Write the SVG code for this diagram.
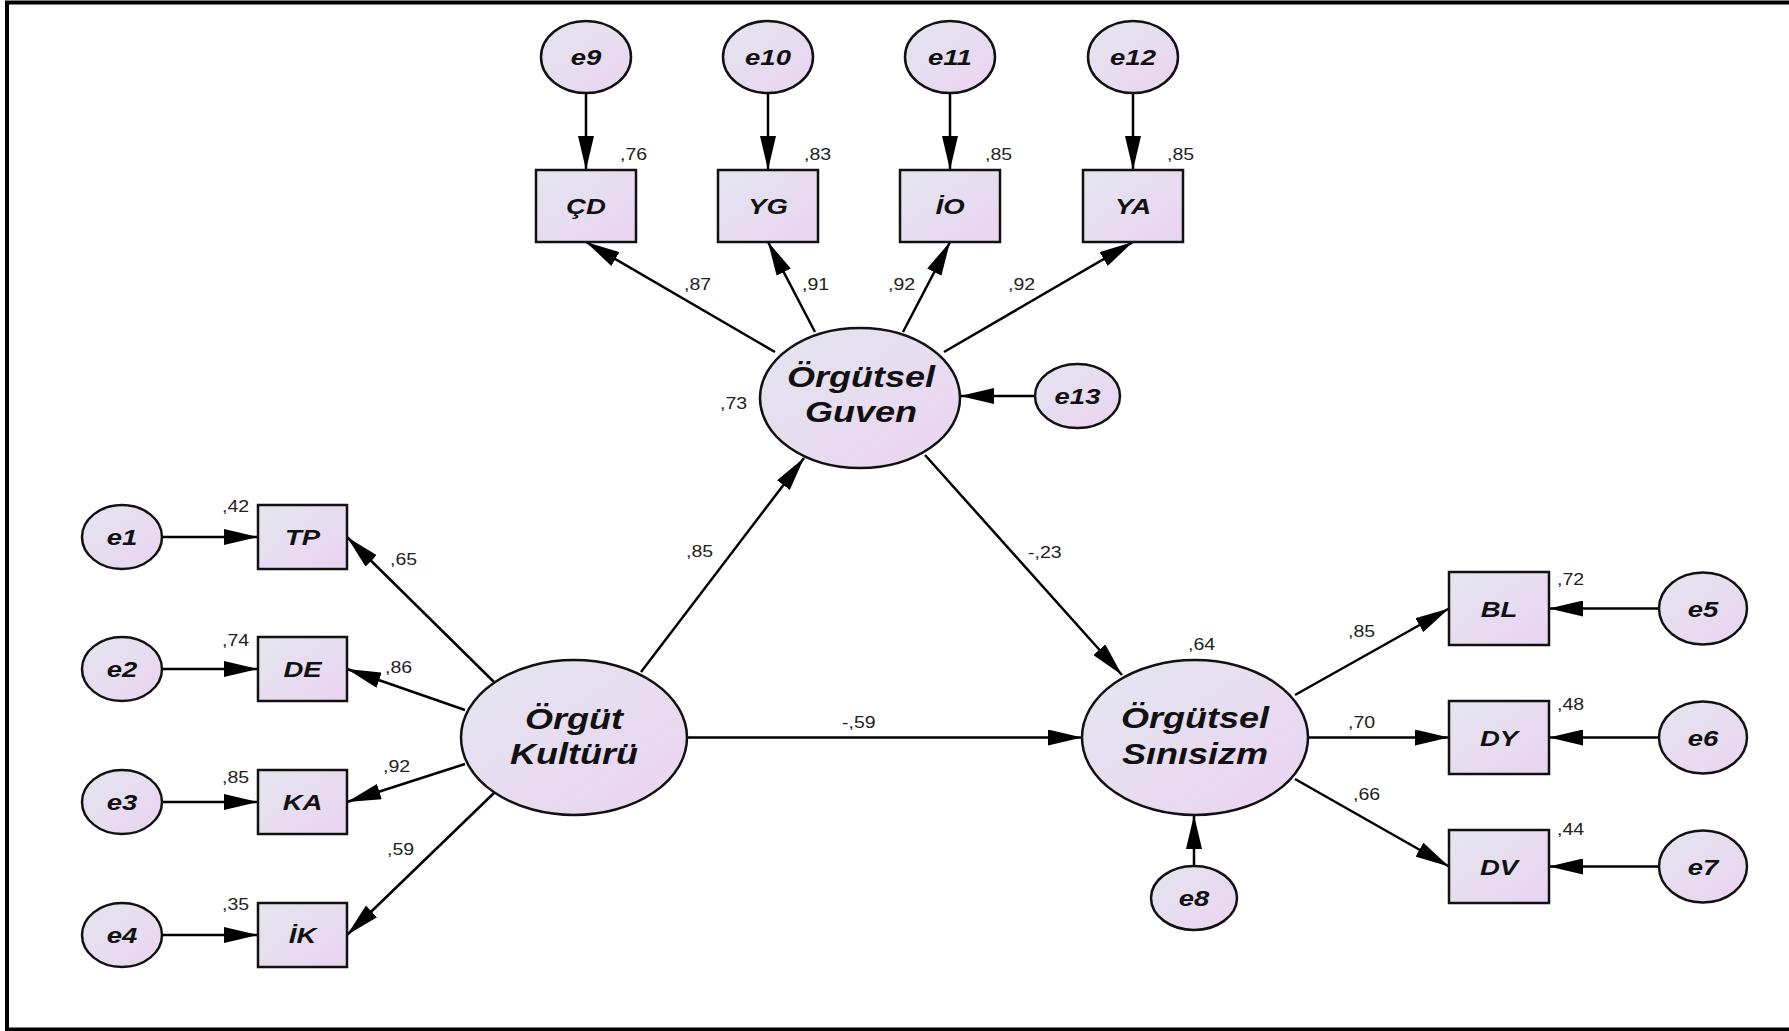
<svg xmlns="http://www.w3.org/2000/svg" width="1789" height="1031" viewBox="0 0 1789 1031">
<defs>
<linearGradient id="fillg" x1="0" y1="0" x2="1" y2="1">
<stop offset="0" stop-color="#e3e6ee"/>
<stop offset="1" stop-color="#ebd3f2"/>
</linearGradient>
<marker id="ah" markerUnits="userSpaceOnUse" markerWidth="34" markerHeight="16" refX="34" refY="8" orient="auto">
<path d="M0,0 L34,8 L0,16 z" fill="#000"/>
</marker>
</defs>
<style>
.nd{fill:url(#fillg);stroke:#111;stroke-width:2.5}
.cn line{stroke:#000;stroke-width:2.5;marker-end:url(#ah)}
.big{font-family:"Liberation Sans",Arial,sans-serif;font-weight:bold;font-style:italic;font-size:30px;fill:#111;text-anchor:middle}
.lb{font-family:"Liberation Sans",Arial,sans-serif;font-weight:bold;font-style:italic;font-size:22px;fill:#111;text-anchor:middle}
.num{font-family:"Liberation Sans",Arial,sans-serif;font-size:16px;fill:#222}
</style>
<rect x="7" y="2.5" width="1786" height="1027" fill="#fff" stroke="#000" stroke-width="4"/>

<g id="connectors" class="cn">
<line x1="586" y1="93" x2="586" y2="170"/>
<line x1="768" y1="93" x2="768" y2="170"/>
<line x1="950" y1="93" x2="950" y2="170"/>
<line x1="1133" y1="93" x2="1133" y2="170"/>
<line x1="775" y1="352" x2="586" y2="242"/>
<line x1="815" y1="332" x2="768" y2="242"/>
<line x1="903" y1="332" x2="950" y2="242"/>
<line x1="944" y1="352" x2="1133" y2="242"/>
<line x1="1035" y1="396" x2="960" y2="396"/>
<line x1="162" y1="537" x2="258" y2="537"/>
<line x1="162" y1="669" x2="258" y2="669"/>
<line x1="162" y1="802" x2="258" y2="802"/>
<line x1="162" y1="935" x2="258" y2="935"/>
<line x1="494" y1="682" x2="347" y2="537"/>
<line x1="465" y1="710" x2="347" y2="669"/>
<line x1="465" y1="764" x2="347" y2="802"/>
<line x1="494" y1="793" x2="347" y2="935"/>
<line x1="641" y1="672" x2="804" y2="458"/>
<line x1="687" y1="737.5" x2="1082" y2="737.5"/>
<line x1="925" y1="455" x2="1122" y2="675"/>
<line x1="1194" y1="866" x2="1194" y2="815"/>
<line x1="1295" y1="695" x2="1449" y2="608.5"/>
<line x1="1308" y1="737.5" x2="1449" y2="737.5"/>
<line x1="1295" y1="779" x2="1449" y2="866.5"/>
<line x1="1659" y1="608.5" x2="1549" y2="608.5"/>
<line x1="1659" y1="737.5" x2="1549" y2="737.5"/>
<line x1="1659" y1="866.5" x2="1549" y2="866.5"/>
</g>

<g id="n-e9"><ellipse class="nd" cx="586" cy="57" rx="45" ry="36"/><text class="lb" transform="translate(586,65) scale(1.25,1)">e9</text></g>
<g id="n-e10"><ellipse class="nd" cx="768" cy="57" rx="45" ry="36"/><text class="lb" transform="translate(768,65) scale(1.25,1)">e10</text></g>
<g id="n-e11"><ellipse class="nd" cx="950" cy="57" rx="45" ry="36"/><text class="lb" transform="translate(950,65) scale(1.25,1)">e11</text></g>
<g id="n-e12"><ellipse class="nd" cx="1133" cy="57" rx="45" ry="36"/><text class="lb" transform="translate(1133,65) scale(1.25,1)">e12</text></g>

<g id="n-CD"><rect class="nd" x="536" y="170" width="100" height="72"/><text class="lb" transform="translate(586,214) scale(1.25,1)">ÇD</text></g>
<g id="n-YG"><rect class="nd" x="718" y="170" width="100" height="72"/><text class="lb" transform="translate(768,214) scale(1.25,1)">YG</text></g>
<g id="n-IO"><rect class="nd" x="900" y="170" width="100" height="72"/><text class="lb" transform="translate(950,214) scale(1.25,1)">İO</text></g>
<g id="n-YA"><rect class="nd" x="1083" y="170" width="100" height="72"/><text class="lb" transform="translate(1133,214) scale(1.25,1)">YA</text></g>

<g id="n-guven"><ellipse class="nd" cx="860" cy="398" rx="100" ry="70"/><text class="big" transform="translate(861,387) scale(1.2,1)">Örgütsel</text><text class="big" transform="translate(861,422) scale(1.2,1)">Guven</text></g>
<g id="n-e13"><ellipse class="nd" cx="1077.5" cy="396" rx="42.5" ry="32"/><text class="lb" transform="translate(1077.5,404) scale(1.25,1)">e13</text></g>

<g id="n-e1"><ellipse class="nd" cx="122" cy="537" rx="40" ry="32"/><text class="lb" transform="translate(122,545) scale(1.25,1)">e1</text></g>
<g id="n-e2"><ellipse class="nd" cx="122" cy="669" rx="40" ry="32"/><text class="lb" transform="translate(122,677) scale(1.25,1)">e2</text></g>
<g id="n-e3"><ellipse class="nd" cx="122" cy="802" rx="40" ry="32"/><text class="lb" transform="translate(122,810) scale(1.25,1)">e3</text></g>
<g id="n-e4"><ellipse class="nd" cx="122" cy="935" rx="40" ry="32"/><text class="lb" transform="translate(122,943) scale(1.25,1)">e4</text></g>

<g id="n-TP"><rect class="nd" x="258" y="505" width="89" height="64"/><text class="lb" transform="translate(302.5,545) scale(1.25,1)">TP</text></g>
<g id="n-DE"><rect class="nd" x="258" y="637" width="89" height="64"/><text class="lb" transform="translate(302.5,677) scale(1.25,1)">DE</text></g>
<g id="n-KA"><rect class="nd" x="258" y="770" width="89" height="64"/><text class="lb" transform="translate(302.5,810) scale(1.25,1)">KA</text></g>
<g id="n-IK"><rect class="nd" x="258" y="903" width="89" height="64"/><text class="lb" transform="translate(302.5,943) scale(1.25,1)">İK</text></g>

<g id="n-kultur"><ellipse class="nd" cx="574" cy="737.5" rx="113" ry="77.5"/><text class="big" transform="translate(574,729) scale(1.2,1)">Örgüt</text><text class="big" transform="translate(574,764) scale(1.2,1)">Kultürü</text></g>
<g id="n-sinisizm"><ellipse class="nd" cx="1195" cy="737.5" rx="113" ry="77.5"/><text class="big" transform="translate(1195,728) scale(1.2,1)">Örgütsel</text><text class="big" transform="translate(1195,764) scale(1.2,1)">Sınısizm</text></g>
<g id="n-e8"><ellipse class="nd" cx="1194" cy="898" rx="43" ry="32"/><text class="lb" transform="translate(1194,906) scale(1.25,1)">e8</text></g>

<g id="n-BL"><rect class="nd" x="1449" y="572" width="100" height="73"/><text class="lb" transform="translate(1499,617) scale(1.25,1)">BL</text></g>
<g id="n-DY"><rect class="nd" x="1449" y="701" width="100" height="73"/><text class="lb" transform="translate(1499,746) scale(1.25,1)">DY</text></g>
<g id="n-DV"><rect class="nd" x="1449" y="830" width="100" height="73"/><text class="lb" transform="translate(1499,875) scale(1.25,1)">DV</text></g>
<g id="n-e5"><ellipse class="nd" cx="1703" cy="608.5" rx="44" ry="36"/><text class="lb" transform="translate(1703,616.5) scale(1.25,1)">e5</text></g>
<g id="n-e6"><ellipse class="nd" cx="1703" cy="737.5" rx="44" ry="36"/><text class="lb" transform="translate(1703,745.5) scale(1.25,1)">e6</text></g>
<g id="n-e7"><ellipse class="nd" cx="1703" cy="866.5" rx="44" ry="36"/><text class="lb" transform="translate(1703,874.5) scale(1.25,1)">e7</text></g>

<g id="labels">
<text class="num" transform="translate(620,160) scale(1.22,1)">,76</text>
<text class="num" transform="translate(804,160) scale(1.22,1)">,83</text>
<text class="num" transform="translate(985,160) scale(1.22,1)">,85</text>
<text class="num" transform="translate(1167,160) scale(1.22,1)">,85</text>
<text class="num" transform="translate(684,290) scale(1.22,1)">,87</text>
<text class="num" transform="translate(802,290) scale(1.22,1)">,91</text>
<text class="num" transform="translate(888,290) scale(1.22,1)">,92</text>
<text class="num" transform="translate(1008,290) scale(1.22,1)">,92</text>
<text class="num" transform="translate(720,409) scale(1.22,1)">,73</text>
<text class="num" transform="translate(686,557) scale(1.22,1)">,85</text>
<text class="num" transform="translate(1028,558) scale(1.22,1)">-,23</text>
<text class="num" transform="translate(842,728) scale(1.22,1)">-,59</text>
<text class="num" transform="translate(1188,650) scale(1.22,1)">,64</text>
<text class="num" transform="translate(222,512) scale(1.22,1)">,42</text>
<text class="num" transform="translate(222,646) scale(1.22,1)">,74</text>
<text class="num" transform="translate(222,783) scale(1.22,1)">,85</text>
<text class="num" transform="translate(222,910) scale(1.22,1)">,35</text>
<text class="num" transform="translate(390,565) scale(1.22,1)">,65</text>
<text class="num" transform="translate(385,673) scale(1.22,1)">,86</text>
<text class="num" transform="translate(383,772) scale(1.22,1)">,92</text>
<text class="num" transform="translate(387,855) scale(1.22,1)">,59</text>
<text class="num" transform="translate(1557,585) scale(1.22,1)">,72</text>
<text class="num" transform="translate(1557,710) scale(1.22,1)">,48</text>
<text class="num" transform="translate(1557,835) scale(1.22,1)">,44</text>
<text class="num" transform="translate(1348,637) scale(1.22,1)">,85</text>
<text class="num" transform="translate(1348,728) scale(1.22,1)">,70</text>
<text class="num" transform="translate(1353,800) scale(1.22,1)">,66</text>
</g>
</svg>
